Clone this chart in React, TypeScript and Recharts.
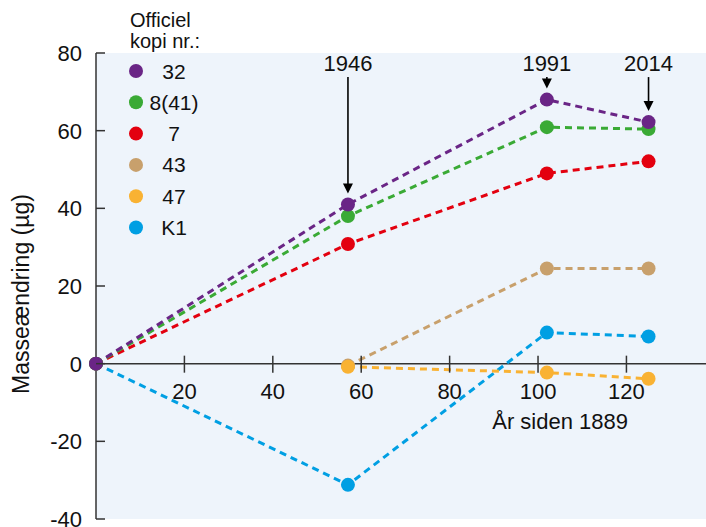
import React from 'react';
import {
  LineChart,
  Line,
  XAxis,
  YAxis,
  CartesianGrid,
  ReferenceLine,
  ReferenceDot,
  Legend,
} from 'recharts';

// Years since 1889
const xValues = [0, 57, 102, 125];
const yearLabels = ['1889', '1946', '1991', '2014'];

const s32 = [0, 41, 68, 62.2];
const s841 = [0, 38, 60.9, 60.4];
const s7 = [0, 30.8, 49, 52.1];
const s43 = [null, -0.5, 24.5, 24.5];
const s47 = [null, -0.8, -2.3, -3.9];
const sK1 = [0, -31.2, 8, 7];

const xTicks = [20, 40, 60, 80, 100, 120];
const yTicks = [-40, -20, 0, 20, 40, 60, 80];

const seriesNames = ['32', '8(41)', '7', '43', '47', 'K1'];
const seriesKeys = ['s32', 's841', 's7', 's43', 's47', 'sK1'];
const seriesColors = ['#6a2586', '#3aaa35', '#e3000f', '#c8a06c', '#f9b233', '#009fe3'];
const seriesValues = [s32, s841, s7, s43, s47, sK1];

const data = xValues.map((x, i) => {
  const row: Record<string, number | null> = { x };
  seriesKeys.forEach((k, j) => {
    row[k] = seriesValues[j][i];
  });
  return row;
});

const FONT = '"Liberation Sans", Arial, sans-serif';
const TEXT = '#111';
const AXIS = '#333';

const YTick = (props: any) => {
  const { x, y, payload } = props;
  return (
    <g>
      <line x1={x + 14} x2={x + 23} y1={y} y2={y} stroke={AXIS} strokeWidth={1.5} />
      <text x={x} y={y} dy="0.36em" textAnchor="end" fontSize={22} fill={TEXT} fontFamily={FONT}>
        {payload.value}
      </text>
    </g>
  );
};

const YLabel = (props: any) => {
  const vb = props.viewBox || { x: 0, y: 0, width: 96, height: 466 };
  const cx = vb.x + 21;
  const cy = vb.y + vb.height / 2 + 8;
  return (
    <text
      x={cx}
      y={cy}
      transform={`rotate(-90 ${cx} ${cy})`}
      textAnchor="middle"
      dominantBaseline="central"
      fontSize={23}
      fill={TEXT}
      fontFamily={FONT}
    >
      Masseændring (µg)
    </text>
  );
};

const XTickMark = (label: number) => (props: any) => {
  const { cx, cy } = props;
  return (
    <g>
      <line x1={cx} x2={cx} y1={cy - 8} y2={cy + 9} stroke={AXIS} strokeWidth={1.5} />
      <text x={cx} y={cy + 35} textAnchor="middle" fontSize={22} fill={TEXT} fontFamily={FONT}>
        {label}
      </text>
    </g>
  );
};

const XTitle = (props: any) => {
  const { cx, cy } = props;
  return (
    <text x={cx} y={cy} dy="0.36em" textAnchor="middle" fontSize={22} fill={TEXT} fontFamily={FONT}>
      År siden 1889
    </text>
  );
};

const Arrow = (label: string) => (props: any) => {
  const { x1, y1, y2 } = props;
  const tip = y2 - 11;
  return (
    <g>
      <text x={x1} y={y1 - 6} textAnchor="middle" fontSize={22} fill={TEXT} fontFamily={FONT}>
        {label}
      </text>
      <line x1={x1} x2={x1} y1={y1} y2={tip - 3} stroke="#000" strokeWidth={1.6} />
      <polygon points={`${x1 - 5},${tip - 10} ${x1 + 5},${tip - 10} ${x1},${tip}`} fill="#000" />
    </g>
  );
};

const LegendContent = () => {
  return (
    <svg width={230} height={245} style={{ display: 'block' }}>
      <text x={130} y={27} fontSize={20} fill={TEXT} fontFamily={FONT}>
        Officiel
      </text>
      <text x={130} y={48} fontSize={20} fill={TEXT} fontFamily={FONT}>
        kopi nr.:
      </text>
      {seriesNames.map((name, i) => {
        const cy = 71 + i * 31.3;
        return (
          <g key={name}>
            <circle cx={136} cy={cy} r={7} fill={seriesColors[i]} />
            <text x={174} y={cy} dy="0.36em" textAnchor="middle" fontSize={21} fill={TEXT} fontFamily={FONT}>
              {name}
            </text>
          </g>
        );
      })}
    </svg>
  );
};

const drawOrder = [5, 3, 4, 2, 1, 0];
const arrowSeries = s32;

export default function App() {
  return (
    <div style={{ position: 'absolute', left: 0, top: 0, width: 706, height: 527, fontFamily: FONT, background: '#fff' }}>
      <LineChart width={706} height={527} data={data} margin={{ top: 53, right: 0, bottom: 8, left: 0 }}>
        <CartesianGrid fill="#eef4fb" strokeOpacity={0} />
        <XAxis dataKey="x" type="number" domain={[0, 138]} hide />
        <YAxis
          type="number"
          domain={[-40, 80]}
          ticks={yTicks}
          width={96}
          interval={0}
          axisLine={{ stroke: AXIS, strokeWidth: 1.5 }}
          tickLine={false}
          tickSize={0}
          tickMargin={14}
          tick={<YTick />}
          label={<YLabel />}
        />
        <Legend
          layout="vertical"
          align="center"
          verticalAlign="middle"
          content={<LegendContent />}
          wrapperStyle={{ left: 0, top: 0, width: 230, height: 245 }}
        />
        <ReferenceLine y={0} stroke={AXIS} strokeWidth={1.5} ifOverflow="extendDomain" />
        {xTicks.map((t) => (
          <ReferenceDot key={t} x={t} y={0} r={0} shape={XTickMark(t)} />
        ))}
        <ReferenceDot x={105} y={-14.8} r={0} shape={XTitle} />
        {drawOrder.map((j) => (
          <Line
            key={seriesKeys[j]}
            dataKey={seriesKeys[j]}
            name={seriesNames[j]}
            type="linear"
            stroke={seriesColors[j]}
            strokeWidth={3}
            strokeDasharray="7 5"
            dot={{ r: 7, fill: seriesColors[j], stroke: 'none', strokeWidth: 0 }}
            activeDot={false}
            isAnimationActive={false}
            connectNulls={false}
          />
        ))}
        {[1, 2, 3].map((i) => (
          <ReferenceLine
            key={yearLabels[i]}
            segment={[
              { x: xValues[i], y: 73.8 },
              { x: xValues[i], y: arrowSeries[i] },
            ]}
            stroke="#000"
            shape={Arrow(yearLabels[i])}
          />
        ))}
      </LineChart>
    </div>
  );
}
